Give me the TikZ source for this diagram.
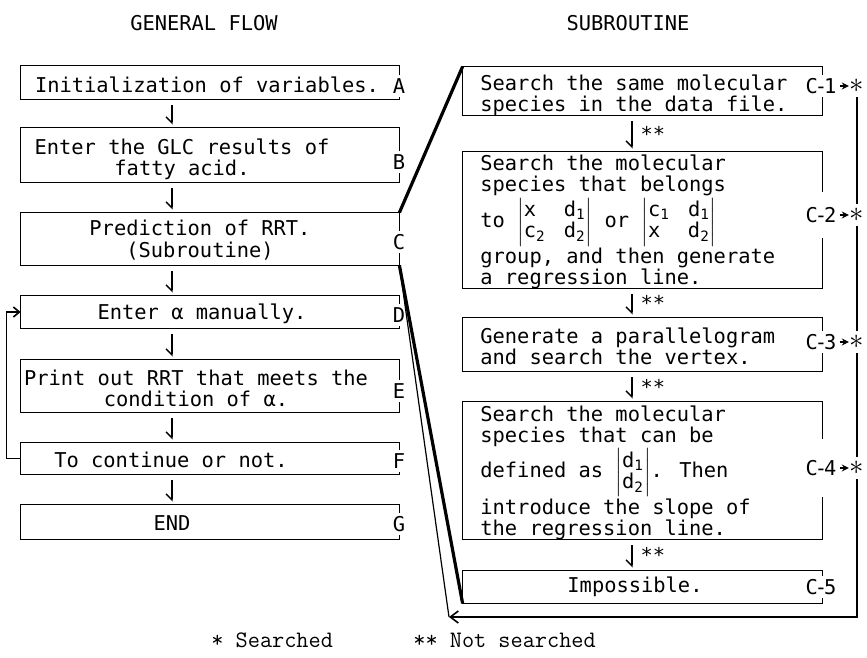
\documentclass[tikz,border=0pt]{standalone}
\usepackage{fontspec}
\newfontfamily\boxfont{DejaVu Sans Mono}
\usetikzlibrary{arrows.meta,calc}
\newcommand\frameit[2]{\draw[edge] (#1.north east |- #2.north) -- (#1.north east) -- (#1.north west) -- (#1.south west) -- (#1.south east) -- (#1.south east |- #2.south);}
\newcommand\dettwo[4]{$\left|\begin{tabular}{@{}l@{\hspace{9pt}}l@{}}#1 & #2\\#3 & #4\end{tabular}\right|$}
\newcommand\detone[2]{$\left|\begin{tabular}{@{}l@{}}#1\\#2\end{tabular}\right|$}
\newcommand\clab[1]{C\kern-1.5pt-\kern-1.5pt#1}
\renewcommand\arraystretch{0.92}
\begin{document}
\begin{tikzpicture}[x=0.5pt,y=-0.5pt,
  every node/.style={font={\boxfont\fontsize{10.2}{10.6}\selectfont}, inner sep=0pt},
  boxL/.style={rectangle, minimum width=189pt},
  boxR/.style={rectangle, minimum width=179.5pt},
  edge/.style={line width=0.8pt},
  lbl/.style={inner sep=1.5pt},
  star/.style={minimum height=11pt, inner sep=0.3pt, font={\fontsize{14}{14}\selectfont}},
  txt/.style={align=left, anchor=west},
  flow/.style={line width=0.7pt, shorten <=3pt, shorten >=1.5pt, -{Straight Barb[harpoon,swap,length=3pt,width=6pt]}},
  bigline/.style={line width=1.6pt},
  thinline/.style={line width=0.6pt},
  ret/.style={line width=0.8pt},
  tolink/.style={line width=0.7pt, -{Stealth[length=3.5pt,width=3.5pt]}},
  legend/.style={font={\ttfamily\fontsize{11.8}{12}\selectfont}, anchor=west}
]
\useasboundingbox (0,0) rectangle (867,658);
% titles
\node (t1) at (204,23) {GENERAL FLOW};
\node (t2) at (628,23) {SUBROUTINE};
% left column boxes
\node[boxL, minimum height=16.5pt] (A) at (210,82.5) {};
\node[boxL, minimum height=27pt] (B) at (210,155) {};
\node[boxL, minimum height=26pt] (C) at (210,239) {};
\node[boxL, minimum height=16pt] (D) at (210,312) {};
\node[boxL, minimum height=26pt] (E) at (210,386) {};
\node[boxL, minimum height=15.5pt] (F) at (210,458.5) {};
\node[boxL, minimum height=17pt] (G) at (210,522) {};
\node[lbl] (lA) at (399,86) {A};
\node[lbl] (lB) at (399,162) {B};
\node[lbl] (lC) at (399,242) {C};
\node[lbl] (lD) at (399,315) {D};
\node[lbl] (lE) at (399,391) {E};
\node[lbl] (lF) at (399,461) {F};
\node[lbl] (lG) at (399,524) {G};
\frameit{A}{lA}\frameit{B}{lB}\frameit{C}{lC}\frameit{D}{lD}
\frameit{E}{lE}\frameit{F}{lF}\frameit{G}{lG}
\node (tA) at (207,85) {Initialization of variables.};
\node[align=center] (tB) at (182,159) {Enter the GLC results of\\fatty acid.};
\node[align=center] (tC) at (200,240) {Prediction of RRT.\\(Subroutine)};
\node (tD) at (202,314) {Enter α manually.};
\node[align=center] (tE) at (196,388) {Print out RRT that meets the\\condition of α.};
\node (tF) at (171,460) {To continue or not.};
\node (tG) at (172,523) {END};
% left arrows
\coordinate (ax) at (172,0);
\draw[flow] (A.south -| ax) -- (B.north -| ax);
\draw[flow] (B.south -| ax) -- (C.north -| ax);
\draw[flow] (C.south -| ax) -- (D.north -| ax);
\draw[flow] (D.south -| ax) -- (E.north -| ax);
\draw[flow] (E.south -| ax) -- (F.north -| ax);
\draw[flow] (F.south -| ax) -- (G.north -| ax);
% loop back
\draw[ret, -{Straight Barb[length=3pt,width=5pt]}] (F.west) -- ++(-14,0) |- (D.west);
% right column boxes
\node[boxR, minimum height=24pt] (C1) at (642.5,91) {};
\node[boxR, minimum height=68pt] (C2) at (642.5,220) {};
\node[boxR, minimum height=26.5pt] (C3) at (642.5,344.5) {};
\node[boxR, minimum height=68.5pt] (C4) at (642.5,470.5) {};
\node[boxR, minimum height=16pt] (C5) at (642.5,587) {};
\node[lbl] (l1) at (821,86) {\clab{1}};
\node[lbl, minimum height=22.5pt] (l2) at (821,215) {\clab{2}};
\node[lbl] (l3) at (821,342) {\clab{3}};
\node[lbl, minimum height=29pt] (l4) at (821,468) {\clab{4}};
\node[lbl] (l5) at (821,587) {\clab{5}};
\frameit{C1}{l1}\frameit{C2}{l2}\frameit{C3}{l3}\frameit{C4}{l4}\frameit{C5}{l5}
\node[txt] (tC1) at (480,95) {Search the same molecular\\species in the data file.};
\node[txt] (tC2) at (480,222) {Search the molecular\\species that belongs\\to \dettwo{x}{d\textsubscript{1}}{c\textsubscript{2}}{d\textsubscript{2}} or \dettwo{c\textsubscript{1}}{d\textsubscript{1}}{x}{d\textsubscript{2}}\\group, and then generate\\a regression line.};
\node[txt] (tC3) at (480,346) {Generate a parallelogram\\and search the vertex.};
\node[txt] (tC4) at (480,473) {Search the molecular\\species that can be\\defined as \detone{d\textsubscript{1}}{d\textsubscript{2}}. Then\\introduce the slope of\\the regression line.};
\node (tC5) at (635,587) {Impossible.};
% right arrows
\coordinate (rx) at (632,0);
\draw[flow] (C1.south -| rx) -- (C2.north -| rx) node[midway, right=4pt] (a1) {**};
\draw[flow] (C2.south -| rx) -- (C3.north -| rx) node[midway, right=4pt] (a2) {**};
\draw[flow] (C3.south -| rx) -- (C4.north -| rx) node[midway, right=4pt] (a3) {**};
\draw[flow] (C4.south -| rx) -- (C5.north -| rx) node[midway, right=4pt] (a4) {**};
% stars and return line
\node[star] (s1) at (857,86) {$\ast$};
\node[star] (s2) at (857,215) {$\ast$};
\node[star] (s3) at (857,342) {$\ast$};
\node[star] (s4) at (857,468) {$\ast$};
\draw[tolink] (l1.east) -- (s1.west);
\draw[tolink] (l2.east) -- (s2.west);
\draw[tolink] (l3.east) -- (s3.west);
\draw[tolink] (l4.east) -- (s4.west);
\draw[ret] (s1.south) -- (s2.north);
\draw[ret] (s2.south) -- (s3.north);
\draw[ret] (s3.south) -- (s4.north);
\coordinate (rt) at (449,617);
\draw[ret, -{Straight Barb[length=4pt,width=6pt]}] (s4.south) |- (rt);
\draw[thinline] (rt) -- (C.south east);
\draw[bigline] (C.south east) -- (C5.south west);
\draw[bigline] (C.north east) -- (C1.north west);
% legend
\node[legend] (lg1) at (211,640) {* Searched};
\node[legend] (lg2) at (413,640) {** Not searched};
\end{tikzpicture}
\end{document}
